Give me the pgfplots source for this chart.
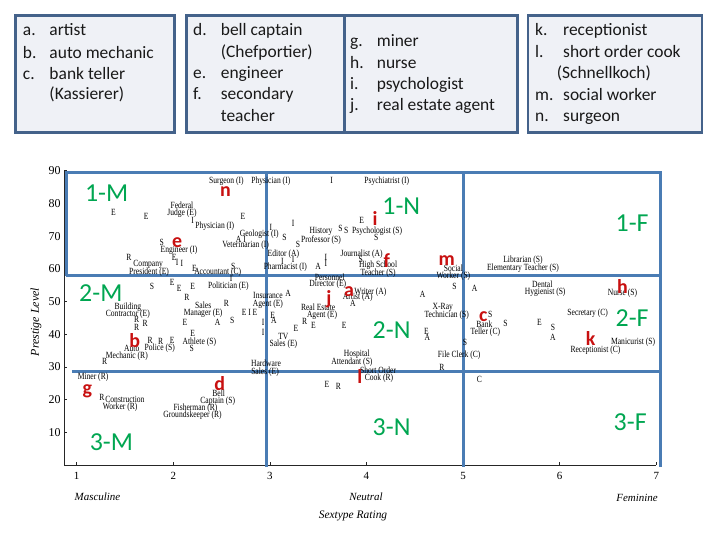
\documentclass[border=0pt]{standalone}
\usepackage{pgfplots}
\pgfplotsset{compat=1.18}
\usepackage{fontspec}
\setmainfont{Liberation Serif}
\newfontfamily\calib{Carlito}
\definecolor{gridblue}{RGB}{74,124,180}
\definecolor{boxborder}{RGB}{68,98,138}
\definecolor{boxfill}{RGB}{239,241,246}
\definecolor{zgreen}{RGB}{0,166,81}
\definecolor{lred}{RGB}{200,16,16}
\pgfplotsset{labelplot/.style={only marks, mark=text, text mark={},
  point meta=explicit symbolic, nodes near coords}}
\begin{document}
\begin{tikzpicture}
\useasboundingbox (0,0) rectangle (720bp,540bp);
\fill[white] (0,0) rectangle (720bp,540bp);
\begin{axis}[
  at={(64.1bp,75bp)}, anchor=south west,
  scale only axis, width=592.2bp, height=294.3bp,
  xmin=0.87, xmax=7, ymin=0, ymax=90,
  axis x line*=bottom, axis y line*=left,
  axis line style={-, line width=0.8bp, black!85},
  xtick={1,...,7}, ytick={10,20,...,90},
  tick align=inside, major tick length=3bp,
  tick style={black!85, line width=0.6bp},
  /pgf/number format/assume math mode=true,
  xticklabel style={font=\fontsize{11}{11}\selectfont, yshift=-4bp},
  yticklabel style={font=\fontsize{12}{12}\selectfont},
  clip=false,
]
% occupation labels and type letters
\addplot[labelplot,
  every node near coord/.append style={anchor=center, inner sep=0pt,
    font=\fontsize{9.5}{9.5}\selectfont, xscale=0.8, text=black}]
coordinates {
(2.55,86.9) [Surgeon (I)]
(3.01,86.9) [Physician (I)]
(3.64,86.9) [I]
(4.21,86.9) [Psychiatrist (I)]
(1.38,77.4) [E]
(1.72,76.1) [E]
(2.09,79.5) [Federal]
(2.09,77.1) [Judge (E)]
(2.20,74.9) [I]
(2.72,76.1) [E]
(2.43,73.1) [Physician (I)]
(2.89,70.6) [Geologist (I)]
(2.70,69.1) [A I]
(2.75,67.3) [Veterinarian (I)]
(1.88,68.2) [S]
(2.06,65.7) [Engineer (I)]
(1.54,63.6) [R]
(1.74,61.5) [Company]
(1.75,59.0) [President (E)]
(2.01,63.6) [E]
(2.04,62.1) [I]
(2.09,61.5) [I]
(2.22,60.2) [E]
(2.46,59.0) [Accountant (C)]
(2.62,60.6) [S]
(2.60,57.2) [I]
(1.78,54.7) [S]
(1.99,55.7) [E]
(2.06,54.1) [E]
(2.20,54.7) [E]
(2.57,54.7) [Politician (E)]
(2.14,51.4) [R]
(3.01,72.8) [I]
(3.24,74.0) [I]
(3.15,69.7) [S]
(3.53,71.3) [History]
(3.53,68.8) [Professor (S)]
(3.73,72.5) [S]
(3.79,71.6) [S]
(3.95,74.9) [E]
(4.11,71.6) [Psychologist (S)]
(4.10,69.7) [S]
(3.29,67.6) [S]
(3.14,64.5) [Editor (A)]
(3.95,64.5) [Journalist (A)]
(3.94,63.0) [S]
(3.13,62.4) [I]
(3.24,63.0) [I]
(3.16,60.6) [Pharmacist (I)]
(3.50,60.6) [A]
(3.58,63.6) [I]
(3.58,61.5) [I]
(4.12,61.2) [High School]
(4.12,58.7) [Teacher (S)]
(4.90,60.2) [Social]
(4.90,57.8) [Worker (S)]
(3.62,57.5) [Personnel]
(3.60,55.4) [Director (E)]
(4.04,52.9) [Writer (A)]
(3.91,51.4) [Artist (A)]
(3.19,52.6) [A]
(4.58,52.3) [A]
(4.91,54.7) [S]
(5.12,54.1) [A]
(2.98,51.7) [Insurance]
(2.98,49.2) [Agent (E)]
(2.79,46.8) [E I E]
(2.61,44.3) [S]
(3.03,45.6) [E]
(3.04,44.3) [A]
(2.93,43.7) [I]
(2.93,40.4) [I]
(3.50,48.3) [Real Estate]
(3.54,45.9) [Agent (E)]
(3.27,41.9) [E]
(3.36,44.0) [R]
(3.45,42.8) [E]
(3.77,42.8) [E]
(3.86,49.5) [A]
(3.14,39.4) [TV]
(3.14,37.0) [Sales (E)]
(3.90,33.9) [Hospital]
(3.85,31.5) [Attendant (S)]
(2.96,31.2) [Hardware]
(2.95,28.4) [Sales (E)]
(4.12,29.1) [Short Order]
(4.13,26.6) [Cook (R)]
(3.59,24.8) [E]
(3.71,23.9) [R]
(4.79,48.3) [X-Ray]
(4.83,45.9) [Technician (S)]
(4.62,41.0) [E]
(4.63,39.1) [A]
(4.96,33.6) [File Clerk (C)]
(4.78,29.7) [R]
(5.17,26.3) [C]
(5.02,37.6) [S]
(5.62,62.7) [Librarian (S)]
(5.62,60.2) [Elementary Teacher (S)]
(5.82,55.4) [Dental]
(5.85,52.9) [Hygienist (S)]
(6.65,52.6) [Nurse (S)]
(5.28,46.2) [S]
(5.22,43.1) [Bank]
(5.23,40.7) [Teller (C)]
(5.44,43.4) [S]
(5.79,43.7) [E]
(5.93,42.2) [S]
(5.93,39.1) [A]
(6.29,46.5) [Secretary (C)]
(6.76,37.6) [Manicurist (S)]
(6.37,35.2) [Receptionist (C)]
(1.53,48.3) [Building]
(1.53,46.2) [Contractor (E)]
(1.62,44.6) [R]
(1.62,42.2) [R]
(1.71,43.4) [R]
(2.31,48.9) [Sales]
(2.31,46.5) [Manager (E)]
(2.55,49.5) [R]
(2.12,43.7) [E]
(2.46,43.7) [A]
(1.76,38.2) [R]
(1.87,37.9) [R]
(1.99,38.2) [E]
(2.20,40.1) [E]
(2.27,37.6) [Athlete (S)]
(2.19,35.8) [S]
(1.57,35.8) [Auto]
(1.52,33.3) [Mechanic (R)]
(1.86,35.8) [Police (S)]
(1.29,31.8) [R]
(1.17,26.9) [Miner (R)]
(1.26,20.8) [R]
(1.50,20.2) [Construction]
(1.45,17.7) [Worker (R)]
(2.47,22.0) [Bell]
(2.46,19.6) [Captain (S)]
(2.23,17.4) [Fisherman (R)]
(2.20,15.3) [Groundskeeper (R)]
};
% blue zone grid
\addplot[gridblue, line width=3bp, line join=miter] coordinates {(0.89,57.8) (0.89,89.6) (7.04,89.6) (7.04,-0.6)};
\addplot[gridblue, line width=3bp] coordinates {(0.89,57.8) (7.04,57.8)};
\addplot[gridblue, line width=3bp] coordinates {(0.95,28.7) (7.04,28.7)};
\addplot[gridblue, line width=3bp] coordinates {(2.96,89.6) (2.96,-0.6)};
\addplot[gridblue, line width=3bp] coordinates {(5.0,89.6) (5.0,-0.6)};
% red occupation letters
\addplot[labelplot,
  every node near coord/.append style={anchor=center, inner sep=0pt,
    font=\calib\fontsize{20}{20}\selectfont\bfseries, text=lred}]
coordinates {
(2.54,83.5) [n]
(2.04,67.9) [e]
(4.09,75.5) [i]
(4.21,62.4) [f]
(4.83,62.4) [m]
(3.82,52.9) [a]
(3.61,50.8) [j]
(3.93,27.2) [l]
(5.21,45.3) [c]
(6.65,54.7) [h]
(6.32,38.8) [k]
(1.60,38.2) [b]
(1.11,22.6) [g]
(2.48,24.8) [d]
};
% green zone names
\addplot[labelplot,
  every node near coord/.append style={anchor=center, inner sep=0pt,
    font=\calib\fontsize{26}{26}\selectfont, text=zgreen}]
coordinates {
(1.31,83.2) [1-M]
(1.25,52.6) [2-M]
(1.36,7.0) [3-M]
(4.36,79.2) [1-N]
(4.26,41.3) [2-N]
(4.26,11.6) [3-N]
(6.75,74.0) [1-F]
(6.75,45.0) [2-F]
(6.73,13.1) [3-F]
};
\end{axis}
\begin{scope}[x=1bp,y=1bp]
% axis texts
\node[font=\fontsize{11}{11}\selectfont\itshape] at (97.5,43) {Masculine};
\node[font=\fontsize{11}{11}\selectfont\itshape] at (366,43) {Neutral};
\node[font=\fontsize{11}{11}\selectfont\itshape] at (637,42) {Feminine};
\node[font=\fontsize{11.5}{11.5}\selectfont\itshape] at (353,24) {Sextype Rating};
\node[font=\fontsize{12}{12}\selectfont\itshape, rotate=90] at (36,218) {Prestige Level};
% legend boxes
\begin{scope}[line width=2.7bp, draw=boxborder, fill=boxfill]
\filldraw (15.3,407.8) rectangle (174.6,524.7);
\filldraw (186.3,407.8) rectangle (344.7,524.7);
\filldraw (344.7,407.8) rectangle (517.8,524.7);
\filldraw (528,407.8) rectangle (702,524.7);
\end{scope}
\begin{scope}[every node/.style={anchor=base west, inner sep=0pt, font=\calib\fontsize{17.5}{17.5}\selectfont, text=black!90}]
\node at (22.7,504) {a.};  \node at (49.3,504) {artist};
\node at (22.7,481.7) {b.}; \node at (49.3,481.7) {auto mechanic};
\node at (22.7,460.7) {c.}; \node at (49.3,460.7) {bank teller};
\node at (49.3,440) {(Kassierer)};
\node at (193,504) {d.}; \node at (220.7,504) {bell captain};
\node at (220.7,482.7) {(Chefportier)};
\node at (193,461) {e.}; \node at (220.7,461) {engineer};
\node at (193,440) {f.}; \node at (220.7,440) {secondary};
\node at (220.7,418.3) {teacher};
\node at (350,493.3) {g.}; \node at (376.7,493.3) {miner};
\node at (350,471.7) {h.}; \node at (376.7,471.7) {nurse};
\node at (350,450.7) {i.}; \node at (376.7,450.7) {psychologist};
\node at (350,429) {j.}; \node at (376.7,429) {real estate agent};
\node at (535,504) {k.}; \node at (563,504) {receptionist};
\node at (535,482.7) {l.}; \node at (563,482.7) {short order cook};
\node at (556.7,461) {(Schnellkoch)};
\node at (535,439.3) {m.}; \node at (563,439.3) {social worker};
\node at (535,418.3) {n.}; \node at (563,418.3) {surgeon};
\end{scope}
\end{scope}
\end{tikzpicture}
\end{document}
